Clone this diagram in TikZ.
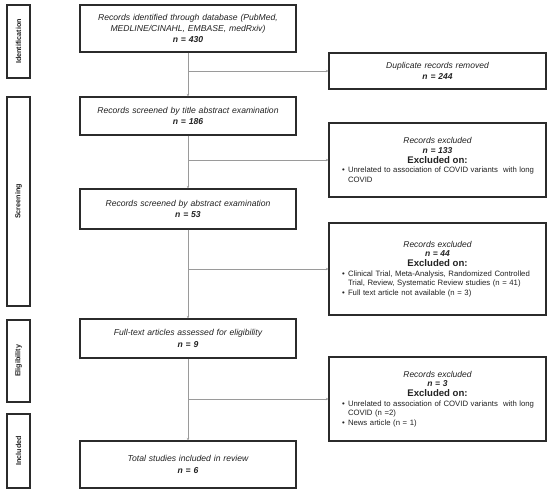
\documentclass[tikz,border=0pt]{standalone}
\usepackage{fontspec}
\setmainfont{Liberation Sans}
\usetikzlibrary{arrows.meta}
\definecolor{bordc}{HTML}{2B2B2B}
\definecolor{linec}{HTML}{9A9A9A}
\definecolor{txtc}{HTML}{222222}
\newcommand{\bitem}[1]{\par\hangindent=10pt\hangafter=1\noindent\hspace*{4pt}\makebox[6pt][l]{\textbullet}#1\par}
\tikzset{
  mainbox/.style={draw=bordc, line width=1.1pt, minimum width=216pt, text width=204pt, align=center, inner sep=0pt, text=txtc, font=\fontsize{8.6}{11.4}\selectfont},
  rbox/.style={draw=bordc, line width=1.1pt, minimum width=217pt, text width=199pt, inner xsep=9pt, inner ysep=0pt, align=left, text=txtc, font=\fontsize{7.75}{9.6}\selectfont},
  sidebox/.style={draw=bordc, line width=1.1pt, minimum width=23pt, inner sep=0pt},
  sidelabel/.style={rotate=90, font=\fontsize{7.2}{8}\selectfont\bfseries, text=txtc},
  conn/.style={draw=linec, line width=0.7pt, -{Stealth[length=2.5pt,width=2.5pt]}},
}
\newcommand{\hd}[2]{{\centering{\fontsize{8.5}{10}\selectfont\itshape Records excluded}\par{\fontsize{8.5}{10}\selectfont\bfseries\itshape n = #1}\par{\fontsize{9.6}{10}\selectfont\bfseries Excluded on:}\par}#2}
\begin{document}
\begin{tikzpicture}[x=1pt,y=-1pt]
\useasboundingbox[fill=white] (0,0) rectangle (550,494);
% side boxes
\node[sidebox, minimum height=73pt] (sid) at (18.5,41.5) {};
\node[sidelabel] (sidl) at (sid.center) {Identification};
\node[sidebox, minimum height=209pt] (sscr) at (18.5,201.5) {};
\node[sidelabel] (sscrl) at (sscr.center) {Screening};
\node[sidebox, minimum height=82pt] (selig) at (18.5,361) {};
\node[sidelabel] (seligl) at (selig.center) {Eligibility};
\node[sidebox, minimum height=74pt] (sinc) at (18.5,451) {};
\node[sidelabel] (sincl) at (sinc.center) {Included};
% main boxes
\node[mainbox, minimum height=47pt] (m1) at (188,28.5) {\itshape Records identified through database (PubMed, MEDLINE/CINAHL, EMBASE, medRxiv)\\ \bfseries\itshape n = 430};
\node[mainbox, minimum height=38pt] (m2) at (188,116) {\itshape Records screened by title abstract examination\\ \bfseries\itshape n = 186};
\node[mainbox, minimum height=40pt] (m3) at (188,209) {\itshape Records screened by abstract examination\\ \bfseries\itshape n = 53};
\node[mainbox, minimum height=39pt] (m4) at (188,338.5) {\itshape Full-text articles assessed for eligibility\\ \bfseries\itshape n = 9};
\node[mainbox, minimum height=47pt] (m5) at (188,464.5) {\itshape Total studies included in review\\ \bfseries\itshape n = 6};
% right boxes
\node[rbox, minimum height=36pt, align=center, font=\fontsize{8.5}{11.8}\selectfont] (dup) at (437.5,71) {\itshape Duplicate records removed\\ \bfseries\itshape n = 244};
\node[rbox, minimum height=74pt] (ex1) at (437.5,160) {\hd{133}{\bitem{Unrelated to association of COVID variants\ \ with long COVID}}};
\node[rbox, minimum height=92pt] (ex2) at (437.5,269) {\hd{44}{\bitem{Clinical Trial, Meta-Analysis, Randomized Controlled Trial, Review, Systematic Review studies (n = 41)}\bitem{Full text article not available (n = 3)}}};
\node[rbox, minimum height=84pt] (ex3) at (437.5,399) {\hd{3}{\bitem{Unrelated to association of COVID variants\ \ with long COVID (n =2)}\bitem{News article (n = 1)}}};
% connectors
\draw[conn] (m1.south) -- (m2.north);
\draw[conn] (m2.south) -- (m3.north);
\draw[conn] (m3.south) -- (m4.north);
\draw[conn] (m4.south) -- (m5.north);
\draw[conn] (m1.south |- dup.west) -- (dup.west);
\draw[conn] (m2.south |- ex1.west) -- (ex1.west);
\draw[conn] (m3.south |- ex2.west) -- (ex2.west);
\draw[conn] (m4.south |- ex3.west) -- (ex3.west);
\end{tikzpicture}
\end{document}
